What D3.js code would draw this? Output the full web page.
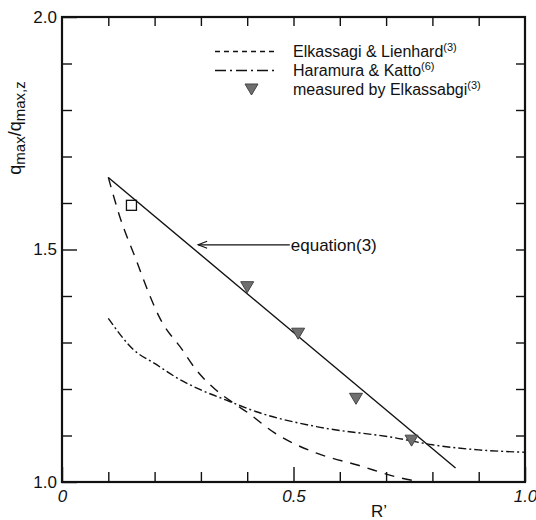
<!DOCTYPE html>
<html>
<head>
<meta charset="utf-8">
<script src="https://cdn.jsdelivr.net/npm/d3@7"></script>
<style>
  body { margin: 0; background: #fff; }
  svg { display: block; font-family: "Liberation Sans", Arial, sans-serif; }
</style>
</head>
<body>
<div id="chart"></div>
<script>
/* CONSTANTS AND GLOBALS */
const width = 536,
  height = 520,
  margin = { top: 17, bottom: 38, left: 62, right: 11 };

// equation (3) - straight line
const eqR = [0.1, 0.85];
const eqQ = [1.655, 1.03];

// Elkassagi & Lienhard (dashed)
const elkR = [0.10, 0.125, 0.16, 0.19, 0.21, 0.26, 0.29, 0.33, 0.37, 0.40, 0.46, 0.55, 0.64, 0.73, 0.775];
const elkQ = [1.655, 1.57, 1.478, 1.40, 1.355, 1.284, 1.241, 1.20, 1.170, 1.150, 1.105, 1.062, 1.036, 1.009, 1.0];

// Haramura & Katto (dash-dot)
const hkR = [0.10, 0.155, 0.20, 0.25, 0.30, 0.355, 0.42, 0.55, 0.72, 0.80, 0.90, 1.0];
const hkQ = [1.352, 1.284, 1.255, 1.223, 1.198, 1.176, 1.151, 1.119, 1.095, 1.080, 1.069, 1.064];

// measured by Elkassabgi (triangles)
const measR = [0.40, 0.51, 0.635, 0.755];
const measQ = [1.42, 1.32, 1.18, 1.09];

// open square
const sqR = [0.15];
const sqQ = [1.595];

// ticks
const xMinorTicks = [0.1, 0.2, 0.3, 0.4, 0.6, 0.7, 0.8, 0.9];
const xMajorTicks = [0, 0.5, 1.0];
const xTickLabels = ["0", "0.5", "1.0"];
const yMinorTicks = [1.1, 1.2, 1.3, 1.4, 1.6, 1.7, 1.8, 1.9];
const yMajorTicks = [1.0, 1.5, 2.0];
const yTickLabels = ["1.0", "1.5", "2.0"];

// annotation arrow (R, q)
const arrowR = [0.294, 0.492];
const arrowQ = 1.51;

const svg = d3.select("#chart").append("svg")
  .attr("width", width)
  .attr("height", height);

const xScale = d3.scaleLinear().domain([0, 1]).range([margin.left, width - margin.right]);
const yScale = d3.scaleLinear().domain([1, 2]).range([height - margin.bottom, margin.top]);

const x0 = margin.left, x1 = width - margin.right;
const y0 = height - margin.bottom, y1 = margin.top;

// AXES - ticks drawn inward
function tickStyle(g) {
  g.select(".domain").remove();
  g.selectAll(".tick line").attr("stroke", "#111").attr("stroke-width", 1.4);
  g.selectAll("text").attr("fill", "#111").attr("font-size", 17);
}

// bottom
svg.append("g").attr("transform", `translate(0,${y0})`)
  .call(d3.axisBottom(xScale).tickValues(xMinorTicks).tickSize(-10).tickFormat(""))
  .call(tickStyle);
svg.append("g").attr("transform", `translate(0,${y0})`)
  .call(d3.axisBottom(xScale).tickValues(xMajorTicks).tickSize(-15).tickPadding(8)
    .tickFormat((d, i) => xTickLabels[i]))
  .call(tickStyle)
  .selectAll("text").attr("font-style", "italic");
// top
svg.append("g").attr("transform", `translate(0,${y1})`)
  .call(d3.axisTop(xScale).tickValues(xMinorTicks.concat([0.5])).tickSize(-9).tickFormat(""))
  .call(tickStyle);
// left
svg.append("g").attr("transform", `translate(${x0},0)`)
  .call(d3.axisLeft(yScale).tickValues(yMinorTicks).tickSize(-10).tickFormat(""))
  .call(tickStyle);
svg.append("g").attr("transform", `translate(${x0},0)`)
  .call(d3.axisLeft(yScale).tickValues(yMajorTicks).tickSize(-15).tickPadding(5)
    .tickFormat((d, i) => yTickLabels[i]))
  .call(tickStyle);
// right
svg.append("g").attr("transform", `translate(${x1},0)`)
  .call(d3.axisRight(yScale).tickValues(yMinorTicks.concat([1.5])).tickSize(-9).tickFormat(""))
  .call(tickStyle);

// frame
svg.append("rect")
  .attr("x", x0).attr("y", y1)
  .attr("width", x1 - x0).attr("height", y0 - y1)
  .attr("fill", "none").attr("stroke", "#111").attr("stroke-width", 2.2);

// axis titles
svg.append("text")
  .attr("x", 379).attr("y", 517)
  .attr("text-anchor", "middle")
  .attr("font-size", 17).attr("fill", "#111")
  .text("R\u2019");

const yTitle = svg.append("text")
  .attr("transform", "translate(21,128) rotate(-90)")
  .attr("text-anchor", "middle")
  .attr("font-size", 18).attr("fill", "#111");
yTitle.append("tspan").text("q");
yTitle.append("tspan").attr("font-size", 15).attr("dy", 4).text("max");
yTitle.append("tspan").attr("dy", -4).text("/q");
yTitle.append("tspan").attr("font-size", 15).attr("dy", 4).text("max,z");

// LINES
const line = d3.line()
  .x(d => xScale(d[0]))
  .y(d => yScale(d[1]));

svg.append("path")
  .datum(eqR.map((r, i) => [r, eqQ[i]]))
  .attr("d", line.curve(d3.curveLinear))
  .attr("fill", "none").attr("stroke", "#111").attr("stroke-width", 1.4);

svg.append("path")
  .datum(elkR.map((r, i) => [r, elkQ[i]]))
  .attr("d", line.curve(d3.curveMonotoneX))
  .attr("fill", "none").attr("stroke", "#111").attr("stroke-width", 1.4)
  .attr("stroke-dasharray", "10,8");

svg.append("path")
  .datum(hkR.map((r, i) => [r, hkQ[i]]))
  .attr("d", line.curve(d3.curveMonotoneX))
  .attr("fill", "none").attr("stroke", "#111").attr("stroke-width", 1.4)
  .attr("stroke-dasharray", "8,3,2,3");

// MARKERS
const triPath = "M-6.5,-5L6.5,-5L0,6Z";
svg.selectAll("path.meas")
  .data(measR.map((r, i) => [r, measQ[i]]))
  .join("path")
  .attr("class", "meas")
  .attr("d", triPath)
  .attr("transform", d => `translate(${xScale(d[0])},${yScale(d[1])})`)
  .attr("fill", "#6f6f6f").attr("stroke", "#444").attr("stroke-width", 1);

svg.selectAll("rect.sq")
  .data(sqR.map((r, i) => [r, sqQ[i]]))
  .join("rect")
  .attr("class", "sq")
  .attr("x", d => xScale(d[0]) - 5).attr("y", d => yScale(d[1]) - 5)
  .attr("width", 10).attr("height", 10)
  .attr("fill", "none").attr("stroke", "#111").attr("stroke-width", 1.3);

// ANNOTATION
const ay = yScale(arrowQ);
const ax0 = xScale(arrowR[0]), ax1 = xScale(arrowR[1]);
svg.append("line")
  .attr("x1", ax0).attr("y1", ay).attr("x2", ax1).attr("y2", ay)
  .attr("stroke", "#111").attr("stroke-width", 1.1);
svg.append("path")
  .attr("d", `M${ax0 + 9},${ay - 3.5}L${ax0},${ay}L${ax0 + 9},${ay + 3.5}`)
  .attr("fill", "none").attr("stroke", "#111").attr("stroke-width", 1.1);
svg.append("text")
  .attr("x", ax1 + 1).attr("y", ay + 6)
  .attr("font-size", 17).attr("fill", "#111")
  .text("equation(3)");

// LEGEND
const legend = svg.append("g");
const legendItems = [
  { label: "Elkassagi & Lienhard", sup: "(3)", type: "dash", y: 51.5 },
  { label: "Haramura & Katto", sup: "(6)", type: "dashdot", y: 70.5 },
  { label: "measured by Elkassabgi", sup: "(3)", type: "tri", y: 89 }
];
legendItems.forEach(d => {
  if (d.type === "tri") {
    legend.append("path").attr("d", triPath)
      .attr("transform", `translate(251.5,${d.y})`)
      .attr("fill", "#6f6f6f").attr("stroke", "#444").attr("stroke-width", 1);
  } else {
    legend.append("line")
      .attr("x1", 215).attr("x2", 278).attr("y1", d.y).attr("y2", d.y)
      .attr("stroke", "#111").attr("stroke-width", 1.3)
      .attr("stroke-dasharray", d.type === "dash" ? "5,4" : "11,4,2,4");
  }
  const t = legend.append("text")
    .attr("x", 293).attr("y", d.y + 5.5)
    .attr("font-size", 16).attr("fill", "#111");
  t.append("tspan").text(d.label);
  t.append("tspan").attr("font-size", 11).attr("dy", -6).text(d.sup);
});
</script>
</body>
</html>
